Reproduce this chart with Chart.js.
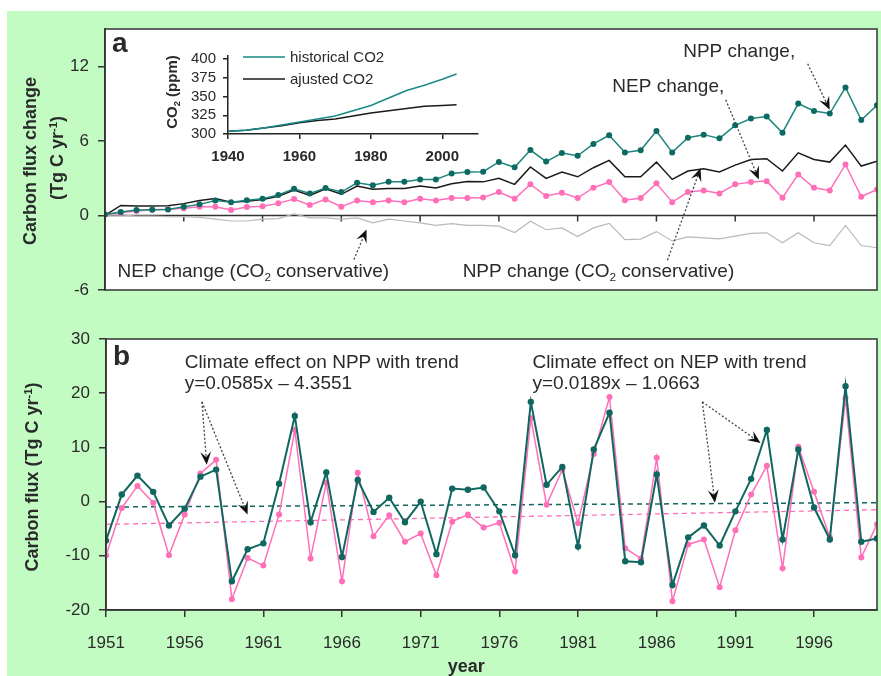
<!DOCTYPE html>
<html>
<head>
<meta charset="UTF-8" />
<title>Carbon flux change</title>
<script src="https://cdn.jsdelivr.net/npm/chart.js"></script>
<style>
  body { margin: 0; background: #ffffff; }
  #wrap { position: relative; width: 881px; height: 676px; overflow: hidden; }
  #green { position: absolute; left: 7px; top: 11px; right: 0; bottom: 0; background: #c3fcc3; }
  canvas { position: absolute; }
  #chartA { left: 0; top: 0; }
  #chartB { left: 0; top: 310px; }
  #inset { left: 120px; top: 40px; }
</style>
</head>
<body>
<div id="wrap">
  <div id="green"></div>
  <canvas id="chartA" width="881" height="310"></canvas>
  <canvas id="chartB" width="881" height="366"></canvas>
  <canvas id="inset" width="370" height="130"></canvas>
</div>
<script>
const FONT = 'Arial, "Liberation Sans", sans-serif';

// years shared by both panels
const years = [1951, 1952, 1953, 1954, 1955, 1956, 1957, 1958, 1959, 1960,
  1961, 1962, 1963, 1964, 1965, 1966, 1967, 1968, 1969, 1970,
  1971, 1972, 1973, 1974, 1975, 1976, 1977, 1978, 1979, 1980,
  1981, 1982, 1983, 1984, 1985, 1986, 1987, 1988, 1989, 1990,
  1991, 1992, 1993, 1994, 1995, 1996, 1997, 1998, 1999, 2000];
const yearTicks = [1951, 1956, 1961, 1966, 1971, 1976, 1981, 1986, 1991, 1996];

// panel a: carbon flux change (Tg C / yr)
const nppChange = [0.08, 0.27, 0.43, 0.45, 0.48, 0.7, 0.89, 1.2, 1.07, 1.23,
  1.34, 1.65, 2.15, 1.77, 2.2, 1.88, 2.63, 2.42, 2.71, 2.71,
  2.9, 2.9, 3.38, 3.5, 3.52, 4.3, 3.87, 5.26, 4.33, 5.02,
  4.8, 5.75, 6.45, 5.07, 5.25, 6.79, 5.07, 6.25, 6.5, 6.2,
  7.25, 7.8, 7.95, 6.66, 9.0, 8.4, 8.2, 10.3, 7.68, 8.86];
const nepChange = [0.08, 0.22, 0.35, 0.45, 0.49, 0.57, 0.7, 0.7, 0.43, 0.68,
  0.73, 0.97, 1.32, 0.83, 1.29, 0.7, 1.2, 1.07, 1.2, 1.07,
  1.34, 1.2, 1.4, 1.4, 1.45, 1.88, 1.34, 2.5, 1.56, 1.82,
  1.4, 2.23, 2.68, 1.23, 1.4, 2.58, 1.07, 1.88, 2.01, 1.77,
  2.5, 2.68, 2.76, 1.42, 3.3, 2.23, 2.01, 4.1, 1.5, 2.09];
const nppConservative = [0, 0.8, 0.75, 0.75, 0.77, 0.95, 1.2, 1.37, 1.07, 1.15,
  1.29, 1.55, 2.05, 1.6, 2.15, 1.7, 2.36, 2.1, 2.17, 2.17,
  2.36, 2.2, 2.55, 2.72, 2.7, 2.98, 2.5, 3.9, 2.98, 3.49,
  3.11, 3.84, 4.43, 3.11, 3.11, 4.29, 2.9, 3.57, 3.76, 3.49,
  4.05, 4.5, 4.56, 3.57, 5.04, 4.5, 4.29, 5.66, 3.97, 4.37];
const nepConservative = [0, 0.05, -0.05, -0.05, -0.1, -0.1, -0.15, -0.3, -0.45, -0.45,
  -0.3, -0.25, 0.12, -0.19, -0.2, -0.3, -0.2, -0.6, -0.3, -0.45,
  -0.6, -0.8, -0.66, -0.8, -0.8, -0.86, -1.38, -0.46, -1.15, -1.0,
  -1.7, -1.0, -0.64, -1.95, -1.9, -1.3, -2.05, -1.72, -1.8, -1.88,
  -1.67, -1.45, -1.4, -2.2, -1.4, -2.2, -2.42, -0.8, -2.42, -2.6];
const aTicks = [-6, 0, 6, 12];

// inset: CO2 concentration (ppm)
const co2Years = [1940, 1945, 1950, 1955, 1960, 1965, 1970, 1975, 1980, 1985, 1990, 1995, 2000, 2004];
const co2Historical = [303.5, 305, 308, 312, 316, 320, 324, 331, 338, 348, 358, 365, 373, 380];
const co2Adjusted = [303.5, 305, 308, 311, 315, 318, 320, 324, 328, 331, 334, 337, 338, 339];
const co2YTicks = [300, 325, 350, 375, 400];
const co2XTicks = [1940, 1960, 1980, 2000];

// panel b: climate effect (Tg C / yr)
const climateTeal = [-7.2, 1.3, 4.8, 1.8, -4.4, -1.3, 4.6, 5.9, -14.7, -8.8,
  -7.7, 3.3, 15.8, -3.8, 5.4, -10.2, 4.0, -1.9, 0.7, -3.8,
  0, -9.7, 2.4, 2.2, 2.6, -1.8, -9.9, 18.4, 3.1, 6.4,
  -8.3, 9.6, 16.4, -11.0, -11.2, 5.0, -15.4, -6.6, -4.4, -8.1,
  -1.8, 4.2, 13.2, -7.0, 9.6, -1.1, -7.0, 21.3, -7.4, -6.8];
const climatePink = [-9.9, -1.2, 2.9, -0.2, -9.9, -2.4, 5.2, 7.7, -18.0, -10.4,
  -11.8, -2.4, 13.2, -10.5, 3.5, -14.7, 5.3, -6.4, -2.5, -7.4,
  -5.9, -13.6, -3.7, -2.4, -4.8, -3.9, -12.9, 15.4, -0.6, 5.9,
  -4.0, 8.8, 19.3, -8.6, -10.5, 8.1, -18.4, -7.9, -7.0, -15.8,
  -5.3, 1.3, 6.6, -12.3, 10.1, 1.8, -6.6, 19.1, -10.3, -4.2];
const trendYears = [1951, 2000];
const trendTeal = [-1.0, -0.2];
const trendPink = [-4.2, -1.5];
const bTicks = [-20, -10, 0, 10, 20, 30];

const TEAL_A = '#1c857c', TEAL_A_DOT = '#0d6a62';
const TEAL_B = '#10675f';
const PINK = '#ff6fb8';
const INK = '#2a2a2a';

function pts(xs, ys) { return xs.map((x, i) => ({ x: x, y: ys[i] })); }

function setFont(ctx, size, weight) { ctx.font = (weight || 'normal') + ' ' + size + 'px ' + FONT; }

// text with sub / superscripts; y is the vertical middle of the capitals
function drawRich(ctx, parts, x, y, size, weight, align, rot) {
  ctx.save();
  ctx.translate(x, y);
  if (rot) ctx.rotate(rot);
  let w = 0;
  parts.forEach(p => {
    setFont(ctx, (p.sup || p.sub) ? size * 0.62 : size, weight);
    w += ctx.measureText(p.t).width;
  });
  let cx = align === 'center' ? -w / 2 : 0;
  ctx.textAlign = 'left';
  ctx.textBaseline = 'alphabetic';
  ctx.fillStyle = INK;
  parts.forEach(p => {
    setFont(ctx, (p.sup || p.sub) ? size * 0.62 : size, weight);
    const dy = p.sup ? -size * 0.36 : p.sub ? size * 0.2 : 0;
    ctx.fillText(p.t, cx, size * 0.36 + dy);
    cx += ctx.measureText(p.t).width;
  });
  ctx.restore();
}

function drawArrow(ctx, x1, y1, x2, y2) {
  const ang = Math.atan2(y2 - y1, x2 - x1);
  const len = 13, hw = 5.5;
  ctx.save();
  ctx.strokeStyle = '#444';
  ctx.lineWidth = 1.3;
  ctx.setLineDash([2, 2]);
  ctx.beginPath();
  ctx.moveTo(x1, y1);
  ctx.lineTo(x2 - Math.cos(ang) * len * 0.6, y2 - Math.sin(ang) * len * 0.6);
  ctx.stroke();
  ctx.setLineDash([]);
  ctx.translate(x2, y2);
  ctx.rotate(ang);
  ctx.fillStyle = '#111';
  ctx.beginPath();
  ctx.moveTo(0, 0);
  ctx.lineTo(-len, -hw);
  ctx.lineTo(-len * 0.6, 0);
  ctx.lineTo(-len, hw);
  ctx.closePath();
  ctx.fill();
  ctx.restore();
}

function whiteArea(chart) {
  const a = chart.chartArea, ctx = chart.ctx;
  ctx.save();
  ctx.fillStyle = '#ffffff';
  ctx.fillRect(a.left, a.top, a.right - a.left, a.bottom - a.top);
  ctx.restore();
}

function frame(chart) {
  const a = chart.chartArea, ctx = chart.ctx;
  ctx.save();
  ctx.strokeStyle = '#333';
  ctx.lineWidth = 1.5;
  ctx.strokeRect(a.left, a.top, a.right - a.left, a.bottom - a.top);
  ctx.restore();
}

const SUB2 = (a, b) => [{ t: a }, { t: '2', sub: true }, { t: b }];
const UNIT = [{ t: '(Tg C yr' }, { t: '-1', sup: true }, { t: ')' }];

const notesA = [
  { parts: [{ t: 'NPP change,' }], x: 1987.7, y: 13.3 },
  { parts: [{ t: 'NEP change,' }], x: 1983.2, y: 10.5 },
  { parts: SUB2('NEP change (CO', ' conservative)'), x: 1951.8, y: -4.4 },
  { parts: SUB2('NPP change (CO', ' conservative)'), x: 1973.7, y: -4.4 }
];
const arrowsA = [
  [1995.6, 12.2, 1997.0, 8.5],
  [1990.4, 9.3, 1992.5, 2.9],
  [1986.7, -3.6, 1988.8, 3.8],
  [1966.8, -3.55, 1967.6, -1.13]
];
const notesB = [
  { parts: [{ t: 'Climate effect on NPP with trend' }], x: 1956.0, y: 25.9 },
  { parts: [{ t: 'y=0.0585x \u2013 4.3551' }], x: 1956.0, y: 22.1 },
  { parts: [{ t: 'Climate effect on NEP with trend' }], x: 1978.1, y: 25.9 },
  { parts: [{ t: 'y=0.0189x \u2013 1.0663' }], x: 1978.1, y: 22.1 }
];
const arrowsB = [
  [1957.1, 18.4, 1957.4, 6.8],
  [1957.1, 18.4, 1960.0, -2.4],
  [1988.9, 18.4, 1989.7, -0.2],
  [1988.9, 18.4, 1992.6, 10.8]
];

const decorA = {
  id: 'decorA',
  beforeDraw: whiteArea,
  beforeDatasetsDraw(chart) {
    const ctx = chart.ctx, xs = chart.scales.x, ys = chart.scales.y, a = chart.chartArea;
    const y0 = ys.getPixelForValue(0);
    ctx.save();
    ctx.strokeStyle = '#333';
    ctx.lineWidth = 1.5;
    ctx.beginPath();
    ctx.moveTo(a.left, y0);
    ctx.lineTo(a.right, y0);
    yearTicks.forEach(yr => {
      const x = xs.getPixelForValue(yr);
      ctx.moveTo(x, y0);
      ctx.lineTo(x, y0 + 6);
    });
    ctx.stroke();
    ctx.restore();
  },
  afterDraw(chart) {
    const ctx = chart.ctx, xs = chart.scales.x, ys = chart.scales.y, a = chart.chartArea;
    frame(chart);
    drawRich(ctx, [{ t: 'a' }], xs.getPixelForValue(1951.45), ys.getPixelForValue(13.95), 28, 'bold', 'left');
    notesA.forEach(n => drawRich(ctx, n.parts, xs.getPixelForValue(n.x), ys.getPixelForValue(n.y), 19, 'normal', 'left'));
    arrowsA.forEach(r => drawArrow(ctx, xs.getPixelForValue(r[0]), ys.getPixelForValue(r[1]),
      xs.getPixelForValue(r[2]), ys.getPixelForValue(r[3])));
    drawRich(ctx, [{ t: 'Carbon flux change' }], a.left - 75, 161, 18, 'bold', 'center', -Math.PI / 2);
    drawRich(ctx, UNIT, a.left - 48, 158, 18, 'bold', 'center', -Math.PI / 2);
  }
};

const decorB = {
  id: 'decorB',
  beforeDraw: whiteArea,
  afterDraw(chart) {
    const ctx = chart.ctx, xs = chart.scales.x, ys = chart.scales.y, a = chart.chartArea;
    frame(chart);
    drawRich(ctx, [{ t: 'b' }], xs.getPixelForValue(1951.45), ys.getPixelForValue(27.1), 28, 'bold', 'left');
    notesB.forEach(n => drawRich(ctx, n.parts, xs.getPixelForValue(n.x), ys.getPixelForValue(n.y), 19, 'normal', 'left'));
    arrowsB.forEach(r => drawArrow(ctx, xs.getPixelForValue(r[0]), ys.getPixelForValue(r[1]),
      xs.getPixelForValue(r[2]), ys.getPixelForValue(r[3])));
    drawRich(ctx, [{ t: 'year' }], xs.getPixelForValue(1973.9), a.bottom + 56, 18, 'bold', 'center');
    drawRich(ctx, [{ t: 'Carbon flux ' }].concat(UNIT), a.left - 74, 167, 18, 'bold', 'center', -Math.PI / 2);
  }
};

const decorInset = {
  id: 'decorInset',
  afterDraw(chart) {
    const ctx = chart.ctx, a = chart.chartArea;
    const items = chart.data.datasets;
    items.forEach((d, i) => {
      const y = 17 + i * 22;
      ctx.save();
      ctx.strokeStyle = d.borderColor;
      ctx.lineWidth = 1.5;
      ctx.beginPath();
      ctx.moveTo(a.left + 15, y);
      ctx.lineTo(a.left + 57, y);
      ctx.stroke();
      ctx.restore();
      drawRich(ctx, [{ t: d.label }], a.left + 62, y, 15, 'normal', 'left');
    });
    drawRich(ctx, SUB2('CO', ' (ppm)'), 52, 52, 15, 'bold', 'center', -Math.PI / 2);
  }
};

const yAxisBase = (ticks, width, min, max) => ({
  min: min, max: max,
  afterBuildTicks: s => { s.ticks = ticks.map(v => ({ value: v })); },
  afterFit: s => { s.width = width; },
  ticks: { padding: 9, color: INK, font: { size: 17 }, autoSkip: false, callback: v => String(v) },
  grid: { drawOnChartArea: false, tickLength: 7, color: '#333', lineWidth: 1.5 },
  border: { color: '#333', width: 1.5 }
});

new Chart(document.getElementById('chartA'), {
  type: 'line',
  data: {
    datasets: [
      { label: 'NPP change', data: pts(years, nppChange), borderColor: TEAL_A, borderWidth: 1.5,
        pointRadius: 3, pointBorderWidth: 0, pointBackgroundColor: TEAL_A_DOT },
      { label: 'NEP change', data: pts(years, nepChange), borderColor: PINK, borderWidth: 1.5,
        pointRadius: 3, pointBorderWidth: 0, pointBackgroundColor: PINK },
      { label: 'NPP change (CO2 conservative)', data: pts(years, nppConservative), borderColor: '#1a1a1a',
        borderWidth: 1.5, pointRadius: 0 },
      { label: 'NEP change (CO2 conservative)', data: pts(years, nepConservative), borderColor: '#b9b9b9',
        borderWidth: 1.2, pointRadius: 0 }
    ]
  },
  options: {
    responsive: false,
    animation: false,
    layout: { padding: { left: 0, top: 29, right: 2, bottom: 20 } },
    plugins: { legend: { display: false }, tooltip: { enabled: false } },
    scales: {
      x: { type: 'linear', min: 1951, max: 2000, display: false },
      y: yAxisBase(aTicks, 105, -6, 15)
    }
  },
  plugins: [decorA]
});

new Chart(document.getElementById('chartB'), {
  type: 'line',
  data: {
    datasets: [
      { label: 'NEP climate effect', data: pts(years, climateTeal), borderColor: TEAL_B, borderWidth: 2,
        pointRadius: 3.2, pointBorderWidth: 0, pointBackgroundColor: TEAL_B },
      { label: 'NPP climate effect', data: pts(years, climatePink), borderColor: PINK, borderWidth: 1.5,
        pointRadius: 3, pointBorderWidth: 0, pointBackgroundColor: PINK },
      { label: 'NEP trend', data: pts(trendYears, trendTeal), borderColor: TEAL_B, borderWidth: 1.5,
        borderDash: [5, 4], pointRadius: 0 },
      { label: 'NPP trend', data: pts(trendYears, trendPink), borderColor: PINK, borderWidth: 1.3,
        borderDash: [5, 4], pointRadius: 0 }
    ]
  },
  options: {
    responsive: false,
    animation: false,
    layout: { padding: { left: 0, top: 29, right: 2, bottom: 0 } },
    plugins: { legend: { display: false }, tooltip: { enabled: false } },
    scales: {
      x: {
        type: 'linear', min: 1951, max: 2000,
        afterBuildTicks: s => { s.ticks = yearTicks.map(v => ({ value: v })); },
        afterFit: s => { s.height = 66; },
        ticks: { padding: 16, color: INK, font: { size: 17 }, maxRotation: 0, autoSkip: false, callback: v => String(v) },
        grid: { drawOnChartArea: false, tickLength: 7, color: '#333', lineWidth: 1.5 },
        border: { color: '#333', width: 1.5 }
      },
      y: yAxisBase(bTicks, 106, -20, 30)
    }
  },
  plugins: [decorB]
});

new Chart(document.getElementById('inset'), {
  type: 'line',
  data: {
    datasets: [
      { label: 'historical CO2', data: pts(co2Years, co2Historical), borderColor: '#198a86',
        borderWidth: 1.5, pointRadius: 0 },
      { label: 'ajusted CO2', data: pts(co2Years, co2Adjusted), borderColor: '#1a1a1a',
        borderWidth: 1.5, pointRadius: 0 }
    ]
  },
  options: {
    responsive: false,
    animation: false,
    layout: { padding: { left: 0, top: 8, right: 12, bottom: 0 } },
    plugins: { legend: { display: false }, tooltip: { enabled: false } },
    scales: {
      x: {
        type: 'linear', min: 1940, max: 2010,
        afterBuildTicks: s => { s.ticks = co2XTicks.map(v => ({ value: v })); },
        afterFit: s => { s.height = 36; },
        ticks: { padding: 9, color: INK, font: { size: 15, weight: 'bold' }, maxRotation: 0, autoSkip: false, callback: v => String(v) },
        grid: { drawOnChartArea: false, tickLength: 5, color: '#222', lineWidth: 1.5 },
        border: { color: '#222', width: 1.5 }
      },
      y: {
        min: 300, max: 404,
        afterBuildTicks: s => { s.ticks = co2YTicks.map(v => ({ value: v })); },
        afterFit: s => { s.width = 108; },
        ticks: { padding: 7, color: INK, font: { size: 15 }, autoSkip: false, callback: v => String(v) },
        grid: { drawOnChartArea: false, tickLength: 5, color: '#222', lineWidth: 1.5 },
        border: { color: '#222', width: 1.5 }
      }
    }
  },
  plugins: [decorInset]
});
</script>
</body>
</html>
